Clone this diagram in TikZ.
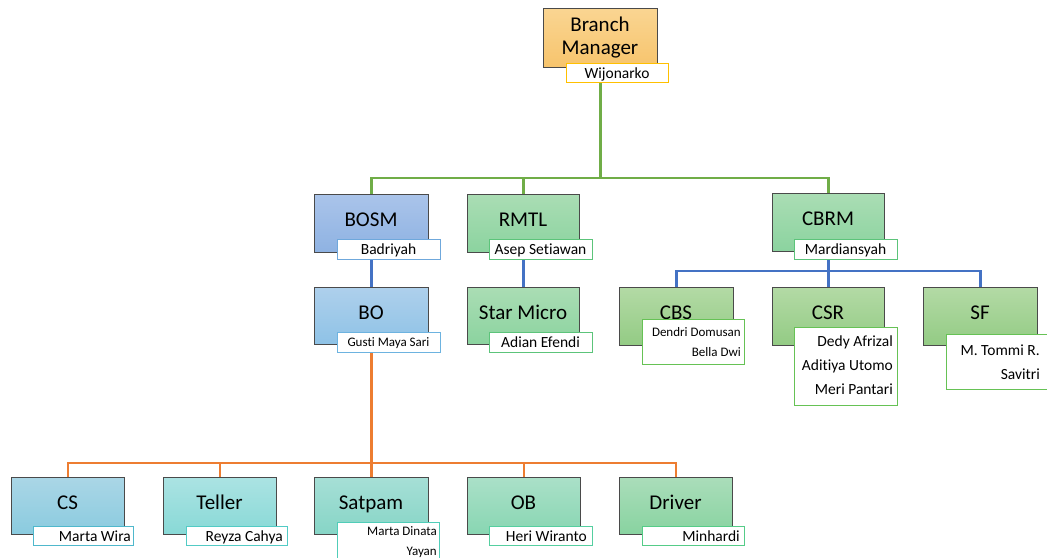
\documentclass[tikz,border=0pt]{standalone}
\usepackage{fontspec}
\setmainfont{Carlito}[Ligatures={NoCommon}]
\pgfdeclarelayer{bg}
\pgfsetlayers{bg,main}
\definecolor{boxline}{HTML}{4A4A4A}
\definecolor{lgreen}{HTML}{70AD47}
\definecolor{lblue}{HTML}{4472C4}
\definecolor{lorange}{HTML}{ED7D31}
\tikzset{
  titlebox/.style={draw=boxline, line width=1.1pt, anchor=north west, inner sep=0pt,
    minimum width=#1, minimum height=58pt},
  titlebox/.default=114pt,
  namebox/.style={fill=white, line width=1.3pt, anchor=north west, inner sep=0pt},
  ttl/.style={font=\fontsize{21}{23}\selectfont, anchor=base, inner sep=0pt},
  nm/.style={font=\fontsize{15.5}{18}\selectfont, inner sep=0pt, anchor=base},
  nmr/.style={font=\fontsize{15.5}{18}\selectfont, inner sep=0pt, anchor=base east},
  nms/.style={font=\fontsize{13}{15}\selectfont, inner sep=0pt, anchor=base},
  nmsr/.style={font=\fontsize{13}{15}\selectfont, inner sep=0pt, anchor=base east},
  link/.style={line width=2.4pt},
}
\definecolor{bmT}{HTML}{FAD592}\definecolor{bmB}{HTML}{F7C46C}\definecolor{bmL}{HTML}{FFC000}
\definecolor{bosmT}{HTML}{AAC4EA}\definecolor{bosmB}{HTML}{8EB2E2}\definecolor{bosmL}{HTML}{6FA8DC}
\definecolor{boT}{HTML}{AED0EC}\definecolor{boB}{HTML}{8EC2E6}\definecolor{boL}{HTML}{6DB3E0}
\definecolor{grT}{HTML}{AADDB4}\definecolor{grB}{HTML}{8BD39F}\definecolor{grL}{HTML}{5CC47A}
\definecolor{lgT}{HTML}{B3DAA5}\definecolor{lgB}{HTML}{93CB84}\definecolor{lgL}{HTML}{66C255}
\definecolor{csT}{HTML}{AAD6E6}\definecolor{csB}{HTML}{8ACBDF}\definecolor{csL}{HTML}{4FB8CC}
\definecolor{tlT}{HTML}{ABE3E3}\definecolor{tlB}{HTML}{88D9D6}\definecolor{tlL}{HTML}{52CBC5}
\definecolor{spT}{HTML}{A6DFD6}\definecolor{spB}{HTML}{86D5C6}\definecolor{spL}{HTML}{50CDB8}
\definecolor{obT}{HTML}{AAE0C8}\definecolor{obB}{HTML}{88D6B2}\definecolor{obL}{HTML}{55CFA0}
\definecolor{drT}{HTML}{AADDBA}\definecolor{drB}{HTML}{88D3A0}\definecolor{drL}{HTML}{55CC88}
\begin{document}
\begin{tikzpicture}[x=1pt,y=-1pt]
\useasboundingbox (0,0) rectangle (1047,557);
\clip (0,0) rectangle (1047,557);

% ---- Branch Manager
\node[titlebox, minimum height=59pt, top color=bmT, bottom color=bmB] (bm) at (543,8) {};
\node[ttl] (bmT1) at (600,31) {Branch};
\node[ttl] (bmT2) at (600,54) {Manager};
\node[namebox, draw=bmL, minimum width=102pt, minimum height=19pt] (bmN) at (566,63) {};
\node[nm] (bmN1) at (617,78) {Wijonarko};

% ---- second level
\node[titlebox, top color=bosmT, bottom color=bosmB] (bosm) at (314,194) {};
\node[ttl] (bosmT1) at (371,226) {BOSM};
\node[namebox, draw=bosmL, minimum width=103pt, minimum height=20pt] (bosmN) at (337,239) {};
\node[nm] (bosmN1) at (388.5,254) {Badriyah};

\node[titlebox=112pt, top color=grT, bottom color=grB] (rmtl) at (467,194) {};
\node[ttl] (rmtlT1) at (523,226) {RMTL};
\node[namebox, draw=grL, minimum width=103pt, minimum height=20pt] (rmtlN) at (489,239) {};
\node[nm] (rmtlN1) at (540.5,254) {Asep Setiawan};

\node[titlebox=112pt, top color=grT, bottom color=grB] (cbrm) at (772,193) {};
\node[ttl] (cbrmT1) at (828,225) {CBRM};
\node[namebox, draw=grL, minimum width=103pt, minimum height=20pt] (cbrmN) at (794,239) {};
\node[nm] (cbrmN1) at (845.5,254) {Mardiansyah};

% ---- third level
\node[titlebox, minimum height=57pt, top color=boT, bottom color=boB] (bo) at (314,287) {};
\node[ttl] (boT1) at (371,319) {BO};
\node[namebox, draw=boL, minimum width=103pt, minimum height=20pt] (boN) at (337,332) {};
\node[nms] (boN1) at (388.5,346.5) {Gusti Maya Sari};

\node[titlebox=112pt, minimum height=57pt, top color=grT, bottom color=grB] (star) at (467,287) {};
\node[ttl] (starT1) at (523,319) {Star Micro};
\node[namebox, draw=grL, minimum width=103pt, minimum height=20pt] (starN) at (489,332) {};
\node[nm] (starN1) at (540.5,347) {Adian Efendi};

\node[titlebox, top color=lgT, bottom color=lgB] (cbs) at (619,287) {};
\node[ttl] (cbsT1) at (676,319) {CBS};
\node[namebox, draw=lgL, minimum width=102pt, minimum height=45pt] (cbsN) at (642,319) {};
\node[nmsr] (cbsN1) at (741,336) {Dendri Domusan};
\node[nmsr] (cbsN2) at (741,356) {Bella Dwi};

\node[titlebox=112pt, top color=lgT, bottom color=lgB] (csr) at (772,287) {};
\node[ttl] (csrT1) at (828,319) {CSR};
\node[namebox, draw=lgL, minimum width=103pt, minimum height=78pt] (csrN) at (794,327) {};
\node[nmr] (csrN1) at (893,346) {Dedy Afrizal};
\node[nmr] (csrN2) at (893,370) {Aditiya Utomo};
\node[nmr] (csrN3) at (893,394) {Meri Pantari};

\node[titlebox, top color=lgT, bottom color=lgB] (sf) at (923,287) {};
\node[ttl] (sfT1) at (980,319) {SF};
\node[namebox, draw=lgL, minimum width=105pt, minimum height=55pt] (sfN) at (946,334) {};
\node[nmr] (sfN1) at (1040,355) {M. Tommi R.};
\node[nmr] (sfN2) at (1040,379) {Savitri};

% ---- bottom row
\node[titlebox=113pt, minimum height=57pt, top color=csT, bottom color=csB] (cs) at (11,477) {};
\node[ttl] (csT1) at (67.5,509) {CS};
\node[namebox, draw=csL, minimum width=100pt, minimum height=19pt] (csN) at (33,526) {};
\node[nmr] (csN1) at (131,541) {Marta Wira};

\node[titlebox=113pt, minimum height=57pt, top color=tlT, bottom color=tlB] (teller) at (163,477) {};
\node[ttl] (tellerT1) at (219.5,509) {Teller};
\node[namebox, draw=tlL, minimum width=101pt, minimum height=19pt] (tellerN) at (186,526) {};
\node[nmr] (tellerN1) at (283,541) {Reyza Cahya};

\node[titlebox, minimum height=57pt, top color=spT, bottom color=spB] (satpam) at (314,477) {};
\node[ttl] (satpamT1) at (371,509) {Satpam};
\node[namebox, draw=spL, minimum width=102pt, minimum height=45pt] (satpamN) at (337,522) {};
\node[nmsr] (satpamN1) at (437,535) {Marta Dinata};
\node[nmsr] (satpamN2) at (437,555) {Yayan};

\node[titlebox=113pt, minimum height=57pt, top color=obT, bottom color=obB] (ob) at (467,477) {};
\node[ttl] (obT1) at (523.5,509) {OB};
\node[namebox, draw=obL, minimum width=103pt, minimum height=19pt] (obN) at (489,526) {};
\node[nmr] (obN1) at (587,541) {Heri Wiranto};

\node[titlebox=113pt, minimum height=57pt, top color=drT, bottom color=drB] (driver) at (619,477) {};
\node[ttl] (driverT1) at (675.5,509) {Driver};
\node[namebox, draw=drL, minimum width=102pt, minimum height=19pt] (driverN) at (642,526) {};
\node[nmr] (driverN1) at (740,541) {Minhardi};

% ---- connectors (behind the boxes)
\begin{pgfonlayer}{bg}
\coordinate (gbus) at (0,178);
\coordinate (bbus) at (0,271);
\coordinate (obus) at (0,463);
\draw[link, lgreen] (bm.south) -- (bm.south |- gbus) -| (bosm.north);
\draw[link, lgreen] (bm.south |- gbus) -| (rmtl.north);
\draw[link, lgreen] (bm.south |- gbus) -| (cbrm.north);
\draw[link, lblue] (bosm.south) -- (bo.north);
\draw[link, lblue] (rmtl.south) -- (star.north);
\draw[link, lblue] (cbrm.south) -- (cbrm.south |- bbus) -| (cbs.north);
\draw[link, lblue] (cbrm.south |- bbus) -| (csr.north);
\draw[link, lblue] (cbrm.south |- bbus) -| (sf.north);
\draw[link, lorange] (bo.south) -- (bo.south |- obus) -| (cs.north);
\draw[link, lorange] (bo.south |- obus) -| (teller.north);
\draw[link, lorange] (bo.south |- obus) -| (satpam.north);
\draw[link, lorange] (bo.south |- obus) -| (ob.north);
\draw[link, lorange] (bo.south |- obus) -| (driver.north);
\end{pgfonlayer}
\end{tikzpicture}
\end{document}
